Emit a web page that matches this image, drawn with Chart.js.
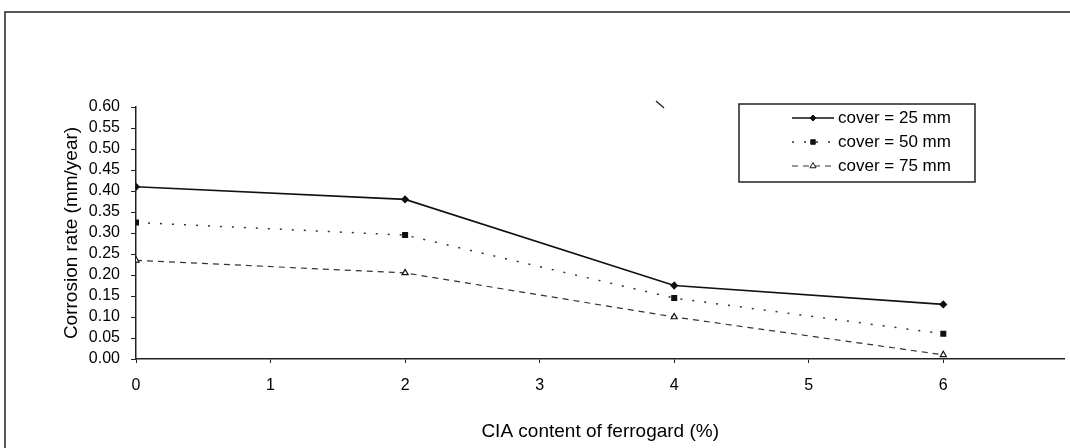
<!DOCTYPE html>
<html>
<head>
<meta charset="utf-8">
<script src="https://cdn.jsdelivr.net/npm/chart.js@4"></script>
<style>
  html, body { margin: 0; padding: 0; background: #fff; }
  #wrap { width: 1070px; height: 448px; }
</style>
</head>
<body>
<div id="wrap"><canvas id="corrosion-chart" width="1070" height="448"></canvas></div>
<script>
// CIA content (%) and corrosion rate (mm/year) per concrete cover
var ciaContent = [0, 2, 4, 6];
var cover25 = [0.41, 0.38, 0.175, 0.13];
var cover50 = [0.325, 0.295, 0.145, 0.06];
var cover75 = [0.235, 0.205, 0.10, 0.01];
var seriesLabels = ["cover = 25 mm", "cover = 50 mm", "cover = 75 mm"];
var xTickLabels = ["0", "1", "2", "3", "4", "5", "6"];

var FONT = "'Liberation Sans', Arial, sans-serif";

function toPoints(ys) {
    return ciaContent.map(function (x, i) {
        return { x: x, y: ys[i] };
    });
}

// outer frame of the scanned figure (plus the little smudge near the top)
var framePlugin = {
    id: "frame",
    afterDraw: function (chart) {
        var ctx = chart.ctx;
        ctx.save();
        ctx.strokeStyle = "#222";
        ctx.lineWidth = 1.5;
        ctx.beginPath();
        ctx.moveTo(5, 448);
        ctx.lineTo(5, 12);
        ctx.lineTo(1070, 12);
        ctx.stroke();

        ctx.lineWidth = 1.3;
        ctx.beginPath();
        ctx.moveTo(656, 101);
        ctx.lineTo(664, 108);
        ctx.stroke();
        ctx.restore();
    }
};

// boxed legend sitting inside the plot, like the original
var boxLegendPlugin = {
    id: "boxLegend",
    afterDraw: function (chart) {
        var ctx = chart.ctx,
            box = { left: 739, top: 104, right: 975, bottom: 182 },
            rowY = [118, 142, 166];

        ctx.save();
        ctx.fillStyle = "#fff";
        ctx.fillRect(box.left, box.top, box.right - box.left, box.bottom - box.top);
        ctx.strokeStyle = "#222";
        ctx.lineWidth = 1.5;
        ctx.strokeRect(box.left, box.top, box.right - box.left, box.bottom - box.top);

        chart.data.datasets.forEach(function (ds, i) {
            var y = rowY[i];
            ctx.save();
            ctx.strokeStyle = ds.borderColor;
            ctx.lineWidth = ds.borderWidth;
            ctx.setLineDash(ds.borderDash || []);
            ctx.beginPath();
            ctx.moveTo(792, y);
            ctx.lineTo(834, y);
            ctx.stroke();
            ctx.restore();

            ctx.save();
            ctx.fillStyle = ds.pointBackgroundColor;
            ctx.strokeStyle = ds.pointBorderColor;
            ctx.lineWidth = 1;
            Chart.helpers.drawPoint(ctx, {
                pointStyle: ds.pointStyle,
                radius: ds.pointRadius,
                borderWidth: 1
            }, 813, y);
            ctx.restore();

            ctx.fillStyle = "#000";
            ctx.font = "17px " + FONT;
            ctx.textBaseline = "middle";
            ctx.fillText(ds.label, 838, y);
        });
        ctx.restore();
    }
};

new Chart("corrosion-chart", {
    type: "scatter",
    data: {
        datasets: [
            {
                label: seriesLabels[0],
                data: toPoints(cover25),
                showLine: true,
                borderColor: "#111",
                borderWidth: 1.6,
                pointStyle: "rectRot",
                pointRadius: 3,
                pointBackgroundColor: "#111",
                pointBorderColor: "#111"
            },
            {
                label: seriesLabels[1],
                data: toPoints(cover50),
                showLine: true,
                borderColor: "#333",
                borderWidth: 1.5,
                borderDash: [2, 10],
                pointStyle: "rect",
                pointRadius: 3.2,
                pointBackgroundColor: "#111",
                pointBorderColor: "#111"
            },
            {
                label: seriesLabels[2],
                data: toPoints(cover75),
                showLine: true,
                borderColor: "#333",
                borderWidth: 1.2,
                borderDash: [6, 5],
                pointStyle: "triangle",
                pointRadius: 3.5,
                pointBackgroundColor: "#fff",
                pointBorderColor: "#111"
            }
        ]
    },
    options: {
        responsive: false,
        animation: false,
        layout: { padding: { top: 107, left: 0, right: 5, bottom: 0 } },
        plugins: {
            legend: { display: false },
            tooltip: { enabled: false }
        },
        scales: {
            x: {
                type: "linear",
                min: 0,
                max: 6.9,
                afterFit: function (scale) { scale.height = 89; },
                afterBuildTicks: function (scale) {
                    scale.ticks = xTickLabels.map(function (t) { return { value: Number(t) }; });
                },
                ticks: {
                    autoSkip: false,
                    padding: 13,
                    color: "#000",
                    font: { family: FONT, size: 16 },
                    callback: function (v) { return xTickLabels[v]; }
                },
                grid: { drawOnChartArea: false, drawTicks: true, tickLength: 4, color: "#222" },
                border: { display: true, color: "#222", width: 1.5 },
                title: {
                    display: true,
                    text: "CIA content of ferrogard (%)",
                    color: "#000",
                    font: { family: FONT, size: 19 },
                    padding: { top: 0, bottom: 5 }
                }
            },
            y: {
                min: 0,
                max: 0.6,
                afterFit: function (scale) { scale.width = 136; },
                ticks: {
                    autoSkip: false,
                    stepSize: 0.05,
                    padding: 11,
                    color: "#000",
                    font: { family: FONT, size: 16 },
                    callback: function (v) { return Number(v).toFixed(2); }
                },
                grid: { drawOnChartArea: false, drawTicks: true, tickLength: 5, color: "#222" },
                border: { display: true, color: "#222", width: 1.5 },
                title: {
                    display: true,
                    text: "Corrosion rate (mm/year)",
                    color: "#000",
                    font: { family: FONT, size: 19 },
                    padding: { top: 60, bottom: 0 }
                }
            }
        }
    },
    plugins: [framePlugin, boxLegendPlugin]
});
</script>
</body>
</html>
